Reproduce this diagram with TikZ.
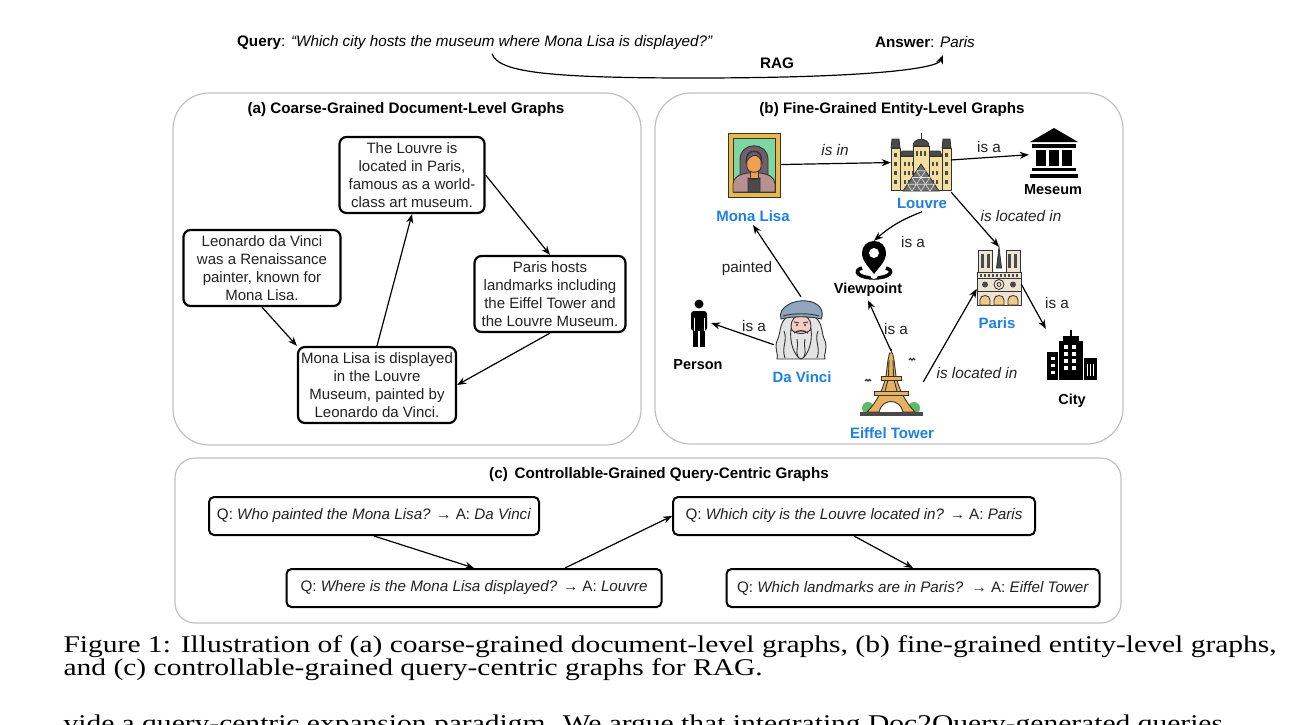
\documentclass[tikz,border=0pt]{standalone}
\usepackage{fontspec}
\setmainfont{Liberation Sans}
\newfontfamily\capfont[FakeStretch=1.23]{Liberation Serif}
\usetikzlibrary{arrows.meta,positioning}
\definecolor{panelgray}{RGB}{192,192,192}
\definecolor{entblue}{RGB}{28,128,230}
\definecolor{txtgray}{RGB}{34,34,34}
\definecolor{iconline}{RGB}{51,51,51}
\definecolor{framegold}{RGB}{232,184,74}
\definecolor{paintgreen}{RGB}{126,214,160}
\definecolor{hairgray}{RGB}{110,94,110}
\definecolor{skinorange}{RGB}{240,160,80}
\definecolor{dressmauve}{RGB}{184,144,144}
\definecolor{louvrebeige}{RGB}{242,223,160}
\definecolor{roofgray}{RGB}{74,74,74}
\definecolor{pyramidgray}{RGB}{112,112,112}
\definecolor{beretblue}{RGB}{143,166,190}
\definecolor{skinpink}{RGB}{244,204,196}
\definecolor{beardgray}{RGB}{228,228,228}
\definecolor{towertan}{RGB}{232,178,96}
\definecolor{bushgreen}{RGB}{93,187,99}
\definecolor{stonebeige}{RGB}{237,227,211}
\definecolor{doorpeach}{RGB}{243,201,139}
\begin{document}
\begin{tikzpicture}[x=1pt,y=-1pt,
  panel/.style={draw=panelgray,line width=1.2pt,rounded corners=36pt},
  paneltitle/.style={font=\fontsize{15.2}{17}\selectfont\bfseries},
  docbox/.style={draw,line width=2.2pt,rounded corners=7pt,align=center,inner sep=2pt,
    minimum height=76pt,text=txtgray,font=\fontsize{15}{18}\selectfont},
  qbox/.style={draw,line width=2pt,rounded corners=5pt,minimum height=38pt,inner xsep=5pt,
    text=txtgray,font=\fontsize{15.2}{17}\selectfont},
  icon/.style={inner sep=0pt},
  entlabel/.style={font=\fontsize{15}{17}\selectfont\bfseries,text=entblue},
  typelabel/.style={font=\fontsize{14.5}{17}\selectfont\bfseries},
  rel/.style={font=\fontsize{15.3}{17}\selectfont,text=txtgray},
  relit/.style={font=\fontsize{15.3}{17}\selectfont\itshape,text=txtgray},
  arr/.style={-{Stealth[length=9pt,width=7pt]},line width=1.2pt},
  captext/.style={anchor=base west,font=\capfont\fontsize{24}{24}\selectfont}]
\useasboundingbox (0,0) rectangle (1305,724);

\node[font=\fontsize{15.25}{17}\selectfont] (query) at (475,43)
  {\textbf{Query}: \textit{“Which city hosts the museum where Mona Lisa is displayed?”}};
\node[font=\fontsize{15.25}{17}\selectfont] (answer) at (925,42) {\textbf{Answer}: \textit{Paris}};
\node[font=\fontsize{15.25}{17}\selectfont\bfseries] (rag) at (777,63) {RAG};
\coordinate (ragdip) at (693,78);
\draw[arr] ([xshift=17pt]query.south) .. controls +(6,18) and +(-150,0) .. (ragdip)
  .. controls +(170,0) and +(-6,14) .. ([shift={(18,4)}]answer.south);

\draw[panel] (173,93) rectangle (641,445);
\draw[panel] (655,93) rectangle (1123,444);
\draw[panel,rounded corners=20pt] (175,458) rectangle (1121,623);
\node[paneltitle] (titleA) at (406,110) {(a) Coarse-Grained Document-Level Graphs};
\node[paneltitle] (titleB) at (892,110) {(b) Fine-Grained Entity-Level Graphs};
\node[paneltitle] (titleC) at (659,475) {(c)\, Controllable-Grained Query-Centric Graphs};

\node[docbox,minimum width=145pt] (louvreD) at (412,175) {The Louvre is\\located in Paris,\\famous as a world-\\class art museum.};
\node[docbox,minimum width=157pt] (leoD) at (262,268) {Leonardo da Vinci\\was a Renaissance\\painter, known for\\Mona Lisa.};
\node[docbox,minimum width=151pt] (parisD) at (550,294) {Paris hosts\\landmarks including\\the Eiffel Tower and\\the Louvre Museum.};
\node[docbox,minimum width=158pt] (monaD) at (377,385) {Mona Lisa is displayed\\in the Louvre\\Museum, painted by\\Leonardo da Vinci.};
\draw[arr] (monaD.north) -- (louvreD.south);
\draw[arr] (louvreD.east) -- (parisD.north);
\draw[arr] (leoD.south) -- (monaD.north west);
\draw[arr] (parisD.south) -- (monaD.east);

\node[icon,minimum width=54pt,minimum height=66pt] (monaI) at (754,165) {};
\node[icon,minimum width=60pt,minimum height=60pt] (louvreI) at (921,162) {};
\node[icon,minimum width=50pt,minimum height=50pt] (museumI) at (1054,153) {};
\node[icon,minimum width=40pt,minimum height=38pt] (viewI) at (874,260) {};
\node[icon,minimum width=44pt,minimum height=58pt] (parisI) at (999,276) {};
\node[icon,minimum width=24pt,minimum height=50pt] (personI) at (699,323) {};
\node[icon,minimum width=54pt,minimum height=64pt] (davinciI) at (801,329) {};
\node[icon,minimum width=64pt,minimum height=62pt] (eiffelI) at (891,382) {};
\node[icon,minimum width=52pt,minimum height=52pt] (cityI) at (1072,355) {};

\node[entlabel] (monaL) at (753,216) {Mona Lisa};
\node[entlabel] (louvreL) at (922,203) {Louvre};
\node[typelabel] (museumL) at (1053,190) {Meseum};
\node[typelabel] (viewL) at (868,290) {Viewpoint};
\node[entlabel] (parisL) at (997,323) {Paris};
\node[typelabel] (personL) at (698,365) {Person};
\node[entlabel] (davinciL) at (802,377) {Da Vinci};
\node[entlabel] (eiffelL) at (892,433) {Eiffel Tower};
\node[typelabel] (cityL) at (1072,401) {City};

\begin{scope}[shift={(monaI.center)},draw=iconline,line width=0.9pt]
  \filldraw[fill=framegold] (-26,-32) rectangle (26,32);
  \filldraw[fill=paintgreen] (-21,-27) rectangle (21,27);
  \filldraw[fill=hairgray] (-14,20) -- (-14,-5) .. controls (-14,-24) and (14,-24) .. (14,-5) -- (14,20) -- cycle;
  \filldraw[fill=dressmauve] (-21,27) -- (-21,19) .. controls (-21,12) and (-14,9) .. (-6,8) -- (6,8) .. controls (14,9) and (21,12) .. (21,19) -- (21,27) -- cycle;
  \filldraw[fill=skinorange] (-4,4) rectangle (4,13);
  \filldraw[fill=roofgray] (-6,27) -- (-6,13) .. controls (-3,15) and (3,15) .. (6,13) -- (6,27) -- cycle;
  \filldraw[fill=skinorange] (-7,-8) .. controls (-7,-16) and (7,-16) .. (7,-8) -- (7,2) .. controls (7,9) and (-7,9) .. (-7,2) -- cycle;
  \filldraw[fill=hairgray] (-8,-3) .. controls (-8,-17) and (8,-17) .. (8,-3) .. controls (4,-12) and (-2,-12) .. (-8,-3) -- cycle;
\end{scope}

\begin{scope}[shift={(louvreI.center)},draw=iconline,line width=0.8pt]
  \filldraw[fill=louvrebeige] (-21,-6) rectangle (21,28);
  \filldraw[fill=roofgray] (-21,-6) -- (-19,-11) -- (19,-11) -- (21,-6) -- cycle;
  \foreach \x in {-16,-12,...,16}
  \foreach \y in {0,9,18}
  \fill[roofgray] (\x-1.2,\y) rectangle (\x+1.2,\y+4);
  \foreach \s in {-1,1} {
    \filldraw[fill=louvrebeige] (\s*21,-14) rectangle (\s*30,28);
    \filldraw[fill=roofgray] (\s*21,-14) -- (\s*22,-23) -- (\s*29,-23) -- (\s*30,-14) -- cycle;
    \foreach \y in {-9,0,9,18}
    \fill[roofgray] (\s*25.5-1.2,\y) rectangle (\s*25.5+1.2,\y+4);
  }
  \filldraw[fill=louvrebeige] (-8,-16) rectangle (8,28);
  \filldraw[fill=roofgray] (-8,-16) .. controls (-8,-25) and (8,-25) .. (8,-16) -- cycle;
  \draw (0,-22) -- (0,-29);
  \foreach \x in {-4,0,4}
  \fill[roofgray] (\x-1.2,-11) rectangle (\x+1.2,-6);
  \filldraw[fill=pyramidgray] (-18,29) -- (0,2) -- (18,29) -- cycle;
  \foreach \k in {1,2,3}
  \draw[white!75!gray,line width=0.6pt] (-18+9*\k,29) -- (4.5*\k,2+6.75*\k)
    (18-9*\k,29) -- (-4.5*\k,2+6.75*\k) (-4.5*\k,2+6.75*\k) -- (4.5*\k,2+6.75*\k);
\end{scope}

\begin{scope}[shift={(museumI.center)}]
  \fill (-24,-11) -- (0,-25) -- (24,-11) -- cycle;
  \fill (-22,-9) rectangle (22,-5);
  \foreach \x in {-13,0,13}
  \fill (\x-5,-3) rectangle (\x+5,13);
  \fill (-22,15) rectangle (22,18);
  \fill (-24,21) rectangle (24,25);
\end{scope}

\begin{scope}[shift={(viewI.center)}]
  \draw[line width=3.5pt] (-12,8) .. controls (-22,11) and (-15,18) .. (0,18) .. controls (15,18) and (22,11) .. (12,8);
  \fill[white] (0,15) circle (4);
  \fill (0,14) .. controls (-6,6) and (-12,1) .. (-12,-7) .. controls (-12,-14) and (-7,-19) .. (0,-19)
    .. controls (7,-19) and (12,-14) .. (12,-7) .. controls (12,1) and (6,6) .. (0,14) -- cycle;
  \fill[white] (0,-7) circle (5);
\end{scope}

\begin{scope}[shift={(parisI.center)},draw=iconline,line width=0.8pt]
  \filldraw[fill=roofgray] (-2.5,-8) -- (0,-29) -- (2.5,-8) -- cycle;
  \foreach \s in {-1,1} {
    \filldraw[fill=stonebeige] (\s*7,-26) rectangle (\s*21,-4);
    \foreach \w in {10.5,16.5}
    \fill[roofgray] (\s*\w-1.8,-22) rectangle (\s*\w+1.8,-8);
  }
  \filldraw[fill=stonebeige] (-22,-4) rectangle (22,29);
  \draw (-22,2) -- (22,2) (-22,15) -- (22,15);
  \foreach \x in {-18,-14,...,18}
  \fill[roofgray] (\x-1,-2.5) rectangle (\x+1,0.5);
  \filldraw[fill=stonebeige] (0,8.5) circle (5);
  \draw (0,8.5) circle (2);
  \foreach \s in {-1,1}
  \fill[roofgray] (\s*14,8.5) circle (3);
  \foreach \x in {-14,0,14}
  \filldraw[fill=doorpeach] (\x-5,29) -- (\x-5,24) .. controls (\x-5,18) and (\x+5,18) .. (\x+5,24) -- (\x+5,29) -- cycle;
\end{scope}

\begin{scope}[shift={(personI.center)}]
  \fill (0,-19) circle (4.5);
  \fill[rounded corners=3pt] (-8,-12) rectangle (8,8);
  \fill (-6,5) rectangle (-0.7,24);
  \fill (0.7,5) rectangle (6,24);
  \draw[white,line width=0.8pt] (-5,-5) -- (-5,8) (5,-5) -- (5,8);
\end{scope}

\begin{scope}[shift={(davinciI.center)},draw=iconline,line width=0.9pt]
  \filldraw[fill=beardgray] (-14,-12) .. controls (-22,-6) and (-20,4) .. (-24,12) .. controls (-27,20) and (-22,26) .. (-24,30)
    -- (24,30) .. controls (22,26) and (27,20) .. (24,12) .. controls (20,4) and (22,-6) .. (14,-12) -- cycle;
  \draw (-17,2) .. controls (-13,12) and (-20,18) .. (-16,29) (17,2) .. controls (13,12) and (20,18) .. (16,29);
  \filldraw[fill=skinpink] (0,-3) ellipse (10 and 11);
  \filldraw[fill=beardgray] (-10,0) .. controls (-12,14) and (-6,28) .. (0,30) .. controls (6,28) and (12,14) .. (10,0)
    .. controls (6,6) and (-6,6) .. (-10,0) -- cycle;
  \draw (-4,10) .. controls (-2,17) and (-6,22) .. (-3,28) (4,10) .. controls (2,17) and (6,22) .. (3,28);
  \fill[iconline] (-4,-4) circle (1.2) (4,-4) circle (1.2);
  \draw (-7,-7) -- (-2,-6) (2,-6) -- (7,-7);
  \draw[line width=1.3pt] (-7,4) .. controls (-3,1) and (3,1) .. (7,4);
  \filldraw[fill=beretblue] (-20,-10) .. controls (-24,-22) and (-6,-30) .. (6,-28) .. controls (18,-27) and (24,-18) .. (20,-10)
    .. controls (10,-13) and (-10,-13) .. (-20,-10) -- cycle;
  \draw (-18,-13) .. controls (-8,-16) and (8,-16) .. (18,-13);
\end{scope}

\begin{scope}[shift={(eiffelI.center)},draw=iconline,line width=0.9pt]
  \fill[bushgreen] (-23,26) circle (6) (-16,27) circle (4.5) (23,26) circle (6) (16,27) circle (4.5);
  \filldraw[fill=towertan] (-24,30) .. controls (-14,20) and (-7,5) .. (-5,-6) -- (-3,-22) -- (-1.5,-29) -- (1.5,-29) -- (3,-22)
    -- (5,-6) .. controls (7,5) and (14,20) .. (24,30) -- (12,30) .. controls (9,16) and (-9,16) .. (-12,30) -- cycle;
  \filldraw[fill=towertan] (-10,-6) rectangle (10,-2);
  \filldraw[fill=towertan] (-17,9) rectangle (17,13);
  \draw (0,-29) -- (0,-33);
  \draw (-2,-22) -- (-2.5,-6) (2,-22) -- (2.5,-6) (-3,-2) -- (-6,9) (3,-2) -- (6,9);
  \fill[roofgray] (-31,30) rectangle (32,34);
  \draw[line width=1.1pt] (18,-22) .. controls (19,-24) and (20,-24) .. (21,-22) .. controls (22,-24) and (23,-24) .. (24,-22);
  \draw[line width=1.1pt] (-26,-1) .. controls (-25,-3) and (-24,-3) .. (-23,-1) .. controls (-22,-3) and (-21,-3) .. (-20,-1);
\end{scope}

\begin{scope}[shift={(cityI.center)}]
  \fill (-13,-14) rectangle (11,25);
  \fill (-9,-19) rectangle (7,-14);
  \fill (-2,-25) rectangle (0,-19);
  \fill (-25,-3) rectangle (-14,25);
  \fill (12,3) rectangle (25,25);
  \foreach \y in {-10,-3,4,11}
  \foreach \x in {-8,0}
  \fill[white] (\x,\y) rectangle (\x+4,\y+4);
  \foreach \y in {2,9,16}
  \fill[white] (-21.5,\y) rectangle (-17.5,\y+3);
  \foreach \x in {15.5,18.5,21.5}
  \fill[white] (\x-0.8,9) rectangle (\x+0.8,21);
\end{scope}

\draw[arr] (monaI) -- (louvreI);
\draw[arr] (louvreI) -- (museumI);
\draw[arr] (louvreI.south east) -- (parisI.north);
\draw[arr] (louvreL.south) to[bend right=10] (viewI.north);
\draw[arr] (davinciI.north) -- (monaL.south);
\draw[arr] (davinciI.210) -- (personI.east);
\draw[arr] (eiffelI.north) -- (viewL.south);
\draw[arr] (eiffelI.east) -- (parisI.210);
\draw[arr] (parisI.-20) -- (cityI.north west);
\node[relit] (isin) at (835,150) {is in};
\node[rel] (isaMus) at (989,147) {is a};
\node[relit] (locLouvre) at (1021,216) {is located in};
\node[rel] (isaView) at (913,242) {is a};
\node[rel] (painted) at (747,269) {painted};
\node[rel] (isaPerson) at (754,326) {is a};
\node[rel] (isaTower) at (896,329) {is a};
\node[rel] (isaCity) at (1057,303) {is a};
\node[relit] (locTower) at (977,373) {is located in};

\node[qbox,minimum width=330pt] (q1) at (374,516) {Q: \textit{Who painted the Mona Lisa?} → A: \textit{Da Vinci}};
\node[qbox,minimum width=375pt] (q2) at (474,588) {Q: \textit{Where is the Mona Lisa displayed?} → A: \textit{Louvre}};
\node[qbox,minimum width=362pt] (q3) at (854,516) {Q: \textit{Which city is the Louvre located in?} → A: \textit{Paris}};
\node[qbox,minimum width=373pt] (q4) at (913,588) {Q: \textit{Which landmarks are in Paris?}\, → A: \textit{Eiffel Tower}};
\draw[arr] (q1.south) -- (q2.north);
\draw[arr] ([xshift=91pt]q2.north) -- (q3.west);
\draw[arr] (q3.south) -- (q4.north);

\node[captext] (cap1) at (60,652)
  {Figure 1: Illustration of (a) coarse-grained document-level graphs, (b) fine-grained entity-level graphs,};
\node[captext] (cap2) at (60,675)
  {and (c) controllable-grained query-centric graphs for RAG.};
\begin{scope}
  \clip (0,0) rectangle (1305,724);
  \node[captext] (body) at (60,731)
    {vide a query-centric expansion paradigm. We argue that integrating Doc2Query-generated queries};
\end{scope}
\end{tikzpicture}
\end{document}
